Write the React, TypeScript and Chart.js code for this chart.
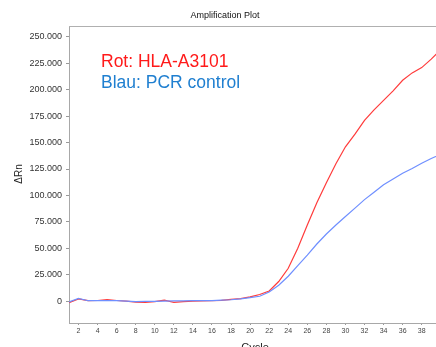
import React, { useEffect, useRef } from "react";
import { Chart, registerables } from "chart.js";

Chart.register(...registerables);

const cycles: number[] = Array.from({ length: 40 }, (_, i) => i + 1);

const redValues: number[] = [
  -1500, 2000, 300, 500, 1300, 500, 0, -1000, -1200, -600,
  800, -1300, -500, 0, 200, 300, 600, 1500, 2200, 4000,
  6200, 9500, 18500, 31000, 50000, 72000, 93000, 112000, 130000, 146000,
  158000, 171000, 181000, 190000, 199000, 209000, 216000, 221000, 229000, 238000,
];

const blueValues: number[] = [
  -800, 2500, 300, 300, 500, 300, 0, -500, -400, -300,
  0, 200, 200, 300, 300, 300, 800, 1200, 2000, 3200,
  4500, 8500, 15000, 23500, 33500, 43500, 54000, 63500, 72000, 80000,
  88000, 96000, 103000, 110000, 115500, 121000, 125500, 130500, 135000, 139000,
];

const xTicks: number[] = [2, 4, 6, 8, 10, 12, 14, 16, 18, 20, 22, 24, 26, 28, 30, 32, 34, 36, 38];
const yTicks: number[] = [0, 25000, 50000, 75000, 100000, 125000, 150000, 175000, 200000, 225000, 250000];

const titleText = "Amplification Plot";
const yTitle = "ΔRn";
const xTitle = "Cycle";
const legendRed = "Rot: HLA-A3101";
const legendBlue = "Blau: PCR control";

const fmt = (v: number) =>
  v === 0 ? "0" : (v / 1000).toFixed(0) + ".000";

export default function App() {
  const ref = useRef<HTMLCanvasElement | null>(null);

  useEffect(() => {
    if (!ref.current) return;
    const textPlugin = {
      id: "texts",
      afterDraw(chart: any) {
        const ctx = chart.ctx;
        const a = chart.chartArea;
        ctx.save();
        // top frame line
        ctx.strokeStyle = "#b0b0b0";
        ctx.lineWidth = 1;
        ctx.beginPath();
        ctx.moveTo(a.left, a.top + 0.5);
        ctx.lineTo(chart.width, a.top + 0.5);
        ctx.stroke();
        // title
        ctx.fillStyle = "#111";
        ctx.font = "9px 'Liberation Sans', Arial, sans-serif";
        ctx.textAlign = "center";
        ctx.textBaseline = "middle";
        ctx.fillText(titleText, 225, 16);
        // y title
        ctx.font = "10px 'Liberation Sans', Arial, sans-serif";
        ctx.fillStyle = "#222";
        ctx.save();
        ctx.translate(19, 174);
        ctx.rotate(-Math.PI / 2);
        ctx.fillText(yTitle, 0, 0);
        ctx.restore();
        // x title
        ctx.font = "11px 'Liberation Sans', Arial, sans-serif";
        ctx.fillText(xTitle, 255, 348);
        // legend texts
        ctx.textAlign = "left";
        ctx.textBaseline = "alphabetic";
        ctx.font = "17.5px 'Liberation Sans', Arial, sans-serif";
        ctx.fillStyle = "#ff1a1a";
        ctx.fillText(legendRed, 101, 67);
        ctx.fillStyle = "#1f7fd0";
        ctx.fillText(legendBlue, 101, 88);
        ctx.restore();
      },
    };

    const chart = new Chart(ref.current, {
      type: "line",
      data: {
        datasets: [
          {
            label: "blue",
            data: cycles.map((c, i) => ({ x: c, y: blueValues[i] })),
            borderColor: "#6f8fff",
            borderWidth: 1.2,
            pointRadius: 0,
            tension: 0,
          },
          {
            label: "red",
            data: cycles.map((c, i) => ({ x: c, y: redValues[i] })),
            borderColor: "#ff3b3b",
            borderWidth: 1.2,
            pointRadius: 0,
            tension: 0,
          },
        ],
      },
      options: {
        responsive: false,
        animation: false,
        layout: { padding: { top: 26, right: 0, left: 0, bottom: 0 } },
        plugins: {
          legend: { display: false },
          tooltip: { enabled: false },
          title: { display: false },
        },
        scales: {
          x: {
            type: "linear",
            min: 1,
            max: 39.5,
            afterFit: (s: any) => {
              s.height = 24;
            },
            afterBuildTicks: (s: any) => {
              s.ticks = xTicks.map((v) => ({ value: v }));
            },
            grid: {
              display: true,
              drawOnChartArea: false,
              drawTicks: true,
              tickLength: 2,
              color: "#999",
            },
            border: { display: true, color: "#a8a8a8", width: 1 },
            ticks: {
              font: { size: 7, family: "'Liberation Sans', Arial, sans-serif" },
              color: "#444",
              padding: 2,
              maxRotation: 0,
              autoSkip: false,
            },
          },
          y: {
            type: "linear",
            min: -20800,
            max: 260400,
            afterFit: (s: any) => {
              s.width = 69;
            },
            afterBuildTicks: (s: any) => {
              s.ticks = yTicks.map((v) => ({ value: v }));
            },
            grid: {
              display: true,
              drawOnChartArea: false,
              drawTicks: true,
              tickLength: 3,
              color: "#999",
            },
            border: { display: true, color: "#a8a8a8", width: 1 },
            ticks: {
              font: { size: 9, family: "'Liberation Sans', Arial, sans-serif" },
              color: "#333",
              padding: 4,
              callback: (v: any) => fmt(Number(v)),
            },
          },
        },
      },
      plugins: [textPlugin],
    } as any);
    return () => chart.destroy();
  }, []);

  return (
    <div style={{ position: "fixed", left: 0, top: 0, width: 436, height: 347, overflow: "hidden", background: "#fff" }}>
      <canvas ref={ref} width={436} height={347} />
    </div>
  );
}
